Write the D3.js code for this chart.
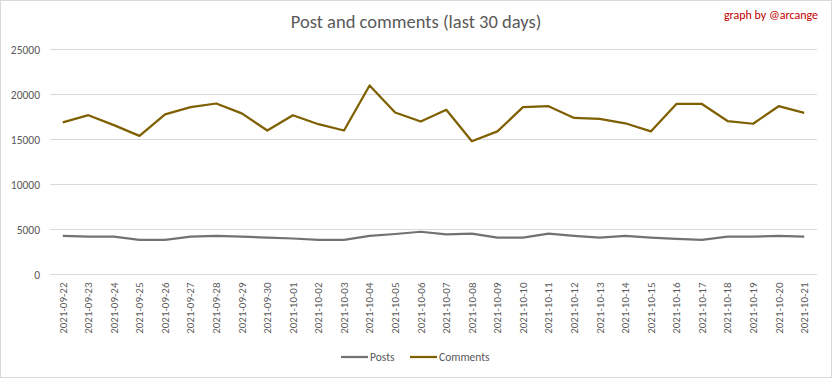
<!DOCTYPE html>
<html>
<head>
<meta charset="utf-8">
<script src="https://cdn.jsdelivr.net/npm/d3@7"></script>
<style>
  body { margin: 0; background: #fff; }
  text { font-family: Carlito, Lato, "Open Sans", sans-serif; }
</style>
</head>
<body>
<svg id="chart"></svg>
<script>
const dates = ["2021-09-22","2021-09-23","2021-09-24","2021-09-25","2021-09-26","2021-09-27","2021-09-28","2021-09-29","2021-09-30",
  "2021-10-01","2021-10-02","2021-10-03","2021-10-04","2021-10-05","2021-10-06","2021-10-07","2021-10-08","2021-10-09","2021-10-10",
  "2021-10-11","2021-10-12","2021-10-13","2021-10-14","2021-10-15","2021-10-16","2021-10-17","2021-10-18","2021-10-19","2021-10-20","2021-10-21"];
const posts = [4300,4200,4200,3850,3850,4200,4300,4200,4100,4000,3850,3850,4300,4500,4750,4450,4550,4100,4100,4550,
  4300,4100,4300,4100,3950,3850,4200,4200,4300,4200];
const comments = [16900,17700,16600,15400,17800,18600,19000,17900,16000,17700,16700,16000,21000,18000,17000,18300,14800,15900,18600,18700,
  17400,17300,16800,15900,18950,18950,17050,16750,18700,17950];
const yTicks = [0,5000,10000,15000,20000,25000];

const W = 832, H = 378;
const margin = {top: 49.5, right: 15, bottom: 103.5, left: 50};
const width = W - margin.left - margin.right,
    height = H - margin.top - margin.bottom;

const root = d3.select("#chart").attr("width", W).attr("height", H);

root.append("rect")
    .attr("x", 0.5).attr("y", 0.5)
    .attr("width", W - 1).attr("height", H - 1)
    .attr("fill", "#fff").attr("stroke", "#d9d9d9");

root.append("text")
    .attr("x", W / 2).attr("y", 28)
    .attr("text-anchor", "middle")
    .attr("font-size", 18.5)
    .attr("fill", "#595959")
    .attr("font-weight", 300)
    .text("Post and comments (last 30 days)");

root.append("text")
    .attr("x", 818).attr("y", 19)
    .attr("text-anchor", "end")
    .attr("font-size", 12)
    .attr("fill", "#c00000")
    .text("graph by @arcange");

const svg = root.append("g")
    .attr("transform", "translate(" + margin.left + "," + margin.top + ")");

const x = d3.scaleBand().domain(dates).range([0, width]);
const y = d3.scaleLinear().domain([0, 25000]).range([height, 0]);

// gridlines
svg.append("g")
    .selectAll("line")
    .data(yTicks)
    .enter().append("line")
    .attr("x1", 0).attr("x2", width)
    .attr("y1", d => y(d)).attr("y2", d => y(d))
    .attr("stroke", "#d9d9d9").attr("stroke-width", 1);

const yAxis = svg.append("g")
    .call(d3.axisLeft(y).tickValues(yTicks).tickSize(0).tickPadding(10).tickFormat(d3.format("d")));
yAxis.select(".domain").remove();
yAxis.selectAll("text").attr("font-size", 11.5).attr("fill", "#595959")
    .attr("font-family", "Carlito, Lato, sans-serif");

const xAxis = svg.append("g")
    .attr("transform", "translate(0," + height + ")")
    .call(d3.axisBottom(x).tickSize(0));
xAxis.select(".domain").remove();
xAxis.selectAll("text")
    .attr("font-size", 11)
    .attr("fill", "#595959")
    .attr("font-family", "Carlito, Lato, sans-serif")
    .attr("text-anchor", "end")
    .attr("transform", "rotate(-90)")
    .attr("dy", "0.35em")
    .attr("dx", 0)
    .attr("x", -8)
    .attr("y", 0);

const line = d3.line()
    .x((d, i) => x(dates[i]) + x.bandwidth() / 2)
    .y(d => y(d));

svg.append("path").datum(posts)
    .attr("fill", "none").attr("stroke", "#767171").attr("stroke-width", 2.25)
    .attr("stroke-linejoin", "round")
    .attr("d", line);

svg.append("path").datum(comments)
    .attr("fill", "none").attr("stroke", "#7f6000").attr("stroke-width", 2.25)
    .attr("stroke-linejoin", "round")
    .attr("d", line);

// legend
const legend = root.append("g").attr("transform", "translate(341,357)");
const items = [{name: "Posts", color: "#767171", x: 0}, {name: "Comments", color: "#7f6000", x: 69}];
items.forEach(it => {
  legend.append("line")
      .attr("x1", it.x).attr("x2", it.x + 27)
      .attr("y1", 0).attr("y2", 0)
      .attr("stroke", it.color).attr("stroke-width", 2.25);
  legend.append("text")
      .attr("x", it.x + 29).attr("y", 0)
      .attr("dy", "0.35em")
      .attr("font-size", 11.5)
      .attr("fill", "#595959")
      .text(it.name);
});
</script>
</body>
</html>
